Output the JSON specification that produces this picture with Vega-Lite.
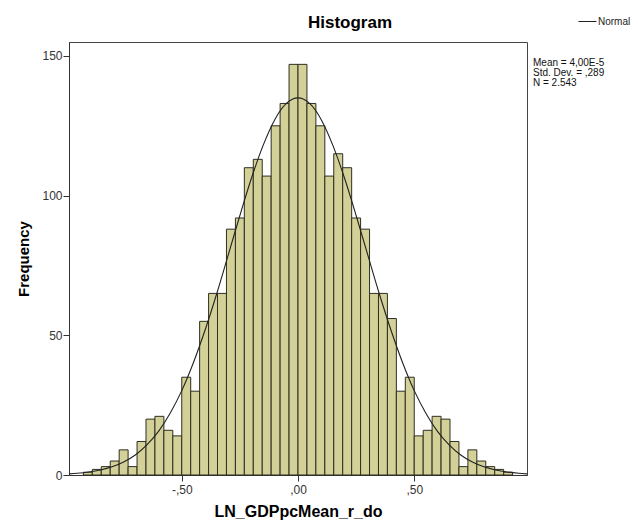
{
  "$schema": "https://vega.github.io/schema/vega-lite/v6.json",
  "width": 458,
  "height": 433,
  "autosize": {"type": "none"},
  "padding": {"left": 69, "top": 42, "right": 111, "bottom": 49},
  "background": "#ffffff",
  "config": {
    "font": "Liberation Sans",
    "view": {"fill": "#ececec", "stroke": "#444444", "strokeWidth": 1},
    "legend": {"padding": 0}
  },
  "title": {
    "text": "Histogram",
    "fontSize": 17,
    "fontWeight": "bold",
    "color": "#000000",
    "anchor": "middle",
    "dx": 52,
    "offset": -20,
    "font": "Liberation Sans"
  },
  "datasets": {
    "bins": [
      {"lo": -0.9231, "hi": -0.8846, "count": 1},
      {"lo": -0.8846, "hi": -0.8462, "count": 2},
      {"lo": -0.8462, "hi": -0.8077, "count": 3},
      {"lo": -0.8077, "hi": -0.7692, "count": 5},
      {"lo": -0.7692, "hi": -0.7308, "count": 9},
      {"lo": -0.7308, "hi": -0.6923, "count": 3},
      {"lo": -0.6923, "hi": -0.6538, "count": 12},
      {"lo": -0.6538, "hi": -0.6154, "count": 20},
      {"lo": -0.6154, "hi": -0.5769, "count": 21},
      {"lo": -0.5769, "hi": -0.5385, "count": 16},
      {"lo": -0.5385, "hi": -0.5, "count": 14},
      {"lo": -0.5, "hi": -0.4615, "count": 35},
      {"lo": -0.4615, "hi": -0.4231, "count": 30},
      {"lo": -0.4231, "hi": -0.3846, "count": 55},
      {"lo": -0.3846, "hi": -0.3462, "count": 65},
      {"lo": -0.3462, "hi": -0.3077, "count": 65},
      {"lo": -0.3077, "hi": -0.2692, "count": 88},
      {"lo": -0.2692, "hi": -0.2308, "count": 92},
      {"lo": -0.2308, "hi": -0.1923, "count": 110},
      {"lo": -0.1923, "hi": -0.1538, "count": 113},
      {"lo": -0.1538, "hi": -0.1154, "count": 107},
      {"lo": -0.1154, "hi": -0.0769, "count": 125},
      {"lo": -0.0769, "hi": -0.0385, "count": 133},
      {"lo": -0.0385, "hi": 0, "count": 147},
      {"lo": 0, "hi": 0.0385, "count": 147},
      {"lo": 0.0385, "hi": 0.0769, "count": 133},
      {"lo": 0.0769, "hi": 0.1154, "count": 125},
      {"lo": 0.1154, "hi": 0.1538, "count": 107},
      {"lo": 0.1538, "hi": 0.1923, "count": 115},
      {"lo": 0.1923, "hi": 0.2308, "count": 110},
      {"lo": 0.2308, "hi": 0.2692, "count": 92},
      {"lo": 0.2692, "hi": 0.3077, "count": 88},
      {"lo": 0.3077, "hi": 0.3462, "count": 65},
      {"lo": 0.3462, "hi": 0.3846, "count": 65},
      {"lo": 0.3846, "hi": 0.4231, "count": 56},
      {"lo": 0.4231, "hi": 0.4615, "count": 30},
      {"lo": 0.4615, "hi": 0.5, "count": 35},
      {"lo": 0.5, "hi": 0.5385, "count": 14},
      {"lo": 0.5385, "hi": 0.5769, "count": 16},
      {"lo": 0.5769, "hi": 0.6154, "count": 21},
      {"lo": 0.6154, "hi": 0.6538, "count": 20},
      {"lo": 0.6538, "hi": 0.6923, "count": 12},
      {"lo": 0.6923, "hi": 0.7308, "count": 3},
      {"lo": 0.7308, "hi": 0.7692, "count": 9},
      {"lo": 0.7692, "hi": 0.8077, "count": 5},
      {"lo": 0.8077, "hi": 0.8462, "count": 3},
      {"lo": 0.8462, "hi": 0.8846, "count": 2},
      {"lo": 0.8846, "hi": 0.9231, "count": 1}
    ],
    "curve": [
      {"x": -0.985, "freq": 0.41},
      {"x": -0.95, "freq": 0.61},
      {"x": -0.9, "freq": 1.06},
      {"x": -0.85, "freq": 1.79},
      {"x": -0.8, "freq": 2.93},
      {"x": -0.75, "freq": 4.65},
      {"x": -0.7, "freq": 7.18},
      {"x": -0.65, "freq": 10.8},
      {"x": -0.6, "freq": 15.6},
      {"x": -0.55, "freq": 22.1},
      {"x": -0.5, "freq": 30.2},
      {"x": -0.45, "freq": 40.2},
      {"x": -0.4, "freq": 51.8},
      {"x": -0.35, "freq": 64.8},
      {"x": -0.3, "freq": 78.8},
      {"x": -0.25, "freq": 92.9},
      {"x": -0.2, "freq": 106.3},
      {"x": -0.15, "freq": 118.0},
      {"x": -0.1, "freq": 127.2},
      {"x": -0.05, "freq": 133.0},
      {"x": 0, "freq": 135.0},
      {"x": 0.05, "freq": 133.0},
      {"x": 0.1, "freq": 127.2},
      {"x": 0.15, "freq": 118.0},
      {"x": 0.2, "freq": 106.3},
      {"x": 0.25, "freq": 92.9},
      {"x": 0.3, "freq": 78.8},
      {"x": 0.35, "freq": 64.8},
      {"x": 0.4, "freq": 51.8},
      {"x": 0.45, "freq": 40.2},
      {"x": 0.5, "freq": 30.2},
      {"x": 0.55, "freq": 22.1},
      {"x": 0.6, "freq": 15.6},
      {"x": 0.65, "freq": 10.8},
      {"x": 0.7, "freq": 7.18},
      {"x": 0.75, "freq": 4.65},
      {"x": 0.8, "freq": 2.93},
      {"x": 0.85, "freq": 1.79},
      {"x": 0.9, "freq": 1.06},
      {"x": 0.95, "freq": 0.61},
      {"x": 0.985, "freq": 0.41}
    ],
    "stats": [
      {"label": "Mean = 4,00E-5"},
      {"label": "Std. Dev. = ,289"},
      {"label": "N = 2.543"}
    ]
  },
  "layer": [
    {
      "data": {"name": "bins"},
      "mark": {"type": "bar", "fill": "#d3d197", "stroke": "#2e2e22", "strokeWidth": 1},
      "encoding": {
        "x": {
          "field": "lo",
          "type": "quantitative",
          "scale": {"domain": [-0.985, 0.985], "nice": false, "zero": false},
          "axis": {
            "values": [-0.5, 0, 0.5],
            "labelExpr": "datum.value == 0 ? ',00' : (datum.value < 0 ? '-,50' : ',50')",
            "title": "LN_GDPpcMean_r_do",
            "titleFontSize": 16,
            "titleFontWeight": "bold",
            "titleColor": "#000000",
            "titlePadding": 8,
            "labelFontSize": 12,
            "labelColor": "#333333",
            "labelPadding": 3,
            "tickSize": 6,
            "tickColor": "#333333",
            "domainColor": "#333333",
            "grid": false
          }
        },
        "x2": {"field": "hi"},
        "y": {
          "field": "count",
          "type": "quantitative",
          "scale": {"domain": [0, 155], "nice": false},
          "axis": {
            "values": [0, 50, 100, 150],
            "title": "Frequency",
            "titleFontSize": 15,
            "titleFontWeight": "bold",
            "titleColor": "#000000",
            "titlePadding": 10,
            "labelFontSize": 12,
            "labelColor": "#333333",
            "labelPadding": 1,
            "tickSize": 6,
            "tickColor": "#333333",
            "domainColor": "#333333",
            "grid": false
          }
        },
        "y2": {"datum": 0}
      }
    },
    {
      "data": {"name": "curve"},
      "mark": {"type": "line", "interpolate": "monotone", "strokeWidth": 1.1, "clip": true},
      "encoding": {
        "x": {"field": "x", "type": "quantitative"},
        "y": {"field": "freq", "type": "quantitative"},
        "stroke": {
          "datum": "Normal",
          "type": "nominal",
          "scale": {"range": ["#222222"]},
          "legend": {
            "orient": "none",
            "legendX": 509,
            "legendY": -30,
            "title": null,
            "symbolType": "stroke",
            "symbolSize": 324,
            "symbolStrokeWidth": 1,
            "labelFontSize": 10,
            "labelOffset": 1,
            "labelColor": "#222222"
          }
        }
      }
    },
    {
      "data": {"name": "stats"},
      "mark": {"type": "point", "opacity": 0},
      "encoding": {
        "shape": {
          "field": "label",
          "type": "nominal",
          "scale": {"domain": ["Mean = 4,00E-5", "Std. Dev. = ,289", "N = 2.543"]},
          "legend": {
            "orient": "none",
            "legendX": 454,
            "legendY": 16,
            "title": null,
            "symbolSize": 0,
            "symbolOpacity": 0,
            "symbolStrokeWidth": 0,
            "labelOffset": 0,
            "labelFontSize": 10,
            "labelColor": "#111111",
            "rowPadding": -1
          }
        }
      }
    }
  ]
}
